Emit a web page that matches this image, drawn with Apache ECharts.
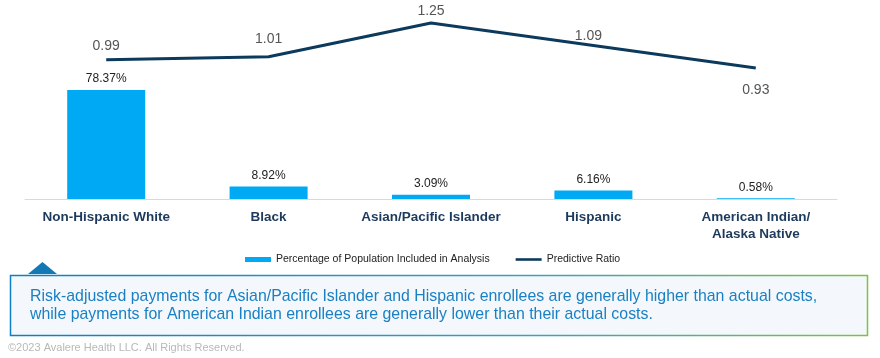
<!DOCTYPE html>
<html><head><meta charset="utf-8">
<script src="https://cdn.jsdelivr.net/npm/echarts@6/dist/echarts.min.js"></script>
<style>html,body{margin:0;padding:0;background:#fff}#c{width:880px;height:358px}</style>
</head><body><div id="c"></div>
<script>
const categories = ['Non-Hispanic White', 'Black', 'Asian/Pacific Islander', 'Hispanic', 'American Indian/\nAlaska Native'];
const populationPct = [78.37, 8.92, 3.09, 6.16, 0.58];
const predictiveRatio = [0.99, 1.01, 1.25, 1.09, 0.93];
const seriesNames = ['Percentage of Population Included in Analysis', 'Predictive Ratio'];
const calloutLines = ['Risk-adjusted payments for Asian/Pacific Islander and Hispanic enrollees are generally higher than actual costs,',
  'while payments for American Indian enrollees are generally lower than their actual costs.'];
const copyright = '©2023 Avalere Health LLC. All Rights Reserved.';

const chart = echarts.init(document.getElementById('c'));
const font = '"Liberation Sans", Arial, sans-serif';
// label placement styling for the ratio labels (not data)
const ratioLabelStyle = [
  { position: 'top', distance: 6 },
  { position: 'top', distance: 10 },
  { position: 'top', distance: 4 },
  { position: 'top', distance: 2, offset: [-5, 0] },
  { position: 'bottom', distance: 15 }
];
chart.setOption({
  animation: false,
  grid: { left: 25, right: 43, top: 16, bottom: 159 },
  legend: {
    top: 249, left: 240, itemGap: 26,
    textStyle: { fontFamily: font, fontSize: 10.5, color: '#222' },
    data: [
      { name: seriesNames[0], icon: 'rect', itemStyle: { color: '#00a9f4' } },
      { name: seriesNames[1], icon: 'path://M0,1.2 L26,1.2 L26,3.8 L0,3.8 Z', itemStyle: { color: '#0c3a5c', opacity: 1 } }
    ],
    itemWidth: 26, itemHeight: 5
  },
  xAxis: {
    type: 'category', data: categories,
    axisLine: { lineStyle: { color: '#d9d9d9', width: 1 } },
    axisTick: { show: false },
    axisLabel: { interval: 0, fontFamily: font, fontWeight: 'bold', fontSize: 13.5, color: '#1d3a5c', margin: 10, lineHeight: 17 }
  },
  yAxis: [
    { type: 'value', min: 0, max: 131.6, show: false },
    { type: 'value', min: 0, max: 1.3, show: false }
  ],
  series: [
    { name: seriesNames[0], type: 'bar', data: populationPct, barWidth: 78, yAxisIndex: 0,
      itemStyle: { color: '#00a9f4' },
      label: { show: true, position: 'top', distance: 5, formatter: p => p.value.toFixed(2) + '%',
        fontFamily: font, fontSize: 12, color: '#222' } },
    { name: seriesNames[1], type: 'line', data: predictiveRatio.map((v, i) => ({ value: v, label: ratioLabelStyle[i] })),
      yAxisIndex: 1, symbol: 'circle', symbolSize: 1, showSymbol: true,
      itemStyle: { color: 'rgba(0,0,0,0)', borderWidth: 0 },
      lineStyle: { color: '#0c3a5c', width: 3 },
      label: { show: true, formatter: p => p.value.toFixed(2),
        fontFamily: font, fontSize: 14, color: '#555' } }
  ],
  graphic: [
    { type: 'polygon', shape: { points: [[28, 274], [42.5, 262], [57, 274]] }, style: { fill: '#1279b5' } },
    { type: 'rect', shape: { x: 10.5, y: 275.5, width: 857, height: 60 },
      style: { fill: '#f4f8fc', lineWidth: 1.5,
        stroke: new echarts.graphic.LinearGradient(0, 0, 1, 0, [{ offset: 0, color: '#0b80c6' }, { offset: 0.6, color: '#3aa0c0' }, { offset: 1, color: '#7dc242' }]) } },
    { type: 'text', x: 30, y: 287, scaleX: 0.935, style: { text: calloutLines.join('\n'), fontFamily: font, fontSize: 17, lineHeight: 18.5, fill: '#1a80c3' } },
    { type: 'text', left: 8, top: 342, style: { text: copyright, fontFamily: font, fontSize: 11, fill: '#b8b8b8' } }
  ]
});
</script></body></html>
